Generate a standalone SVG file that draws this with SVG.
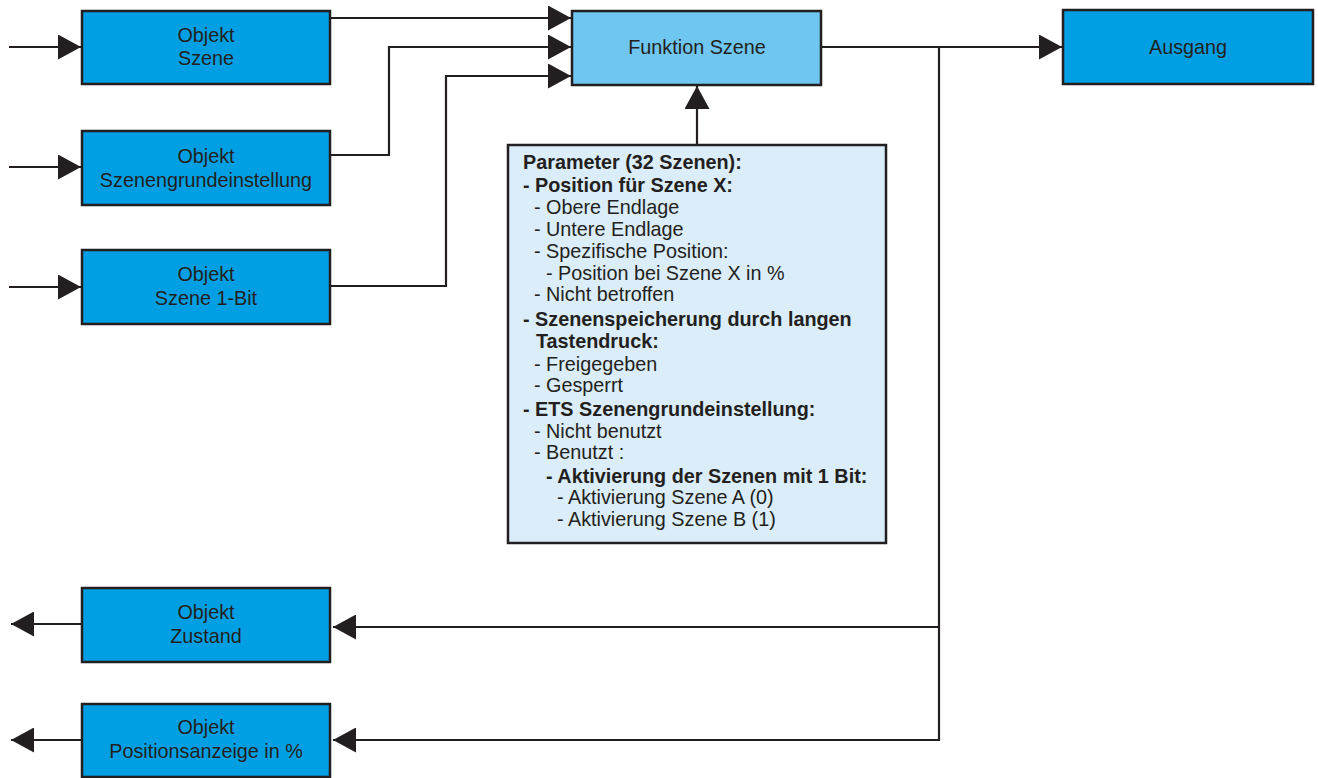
<svg xmlns="http://www.w3.org/2000/svg" width="1318" height="778" viewBox="0 0 1318 778">
  <style>
    .obj { fill: #009fe3; stroke: #231f20; stroke-width: 2.5; }
    .fn { fill: #6ec6f1; stroke: #231f20; stroke-width: 2.5; }
    .par { fill: #dbedf9; stroke: #231f20; stroke-width: 2.5; }
    .lbl { font-family: "Liberation Sans", Arial, sans-serif; font-size: 19.8px; fill: #231f20; text-anchor: middle; }
    .ptx { font-family: "Liberation Sans", Arial, sans-serif; font-size: 19.8px; fill: #231f20; }
    .b { font-weight: bold; }
    .wire { fill: none; stroke: #231f20; stroke-width: 2.2; stroke-linecap: butt; stroke-linejoin: miter; }
  </style>
  <defs>
    <marker id="arrow" viewBox="0 0 23 25" refX="23" refY="12.5" markerWidth="23" markerHeight="25" markerUnits="userSpaceOnUse" orient="auto">
      <polygon points="0,0 23,12.5 0,25" fill="#231f20"/>
    </marker>
  </defs>

  <rect width="1318" height="778" fill="#ffffff"/>

  <!-- connectors -->
  <g id="connectors" class="wire" marker-end="url(#arrow)">
    <!-- inputs into the object blocks -->
    <path d="M9,47 H81"/>
    <path d="M9,167 H81"/>
    <path d="M9,287 H81"/>
    <!-- objects into the scene function -->
    <path d="M331,18 H571"/>
    <path d="M331,155 H389 V47 H571"/>
    <path d="M331,286 H446 V76 H571"/>
    <!-- parameters into the scene function -->
    <path d="M697,144 V86"/>
    <!-- scene function to output -->
    <path d="M822,47 H1062"/>
    <!-- feedback branch -->
    <path d="M939,47 V740 H333"/>
    <path d="M939,627 H333"/>
    <!-- status objects out -->
    <path d="M81,624 H11"/>
    <path d="M81,740 H11"/>
  </g>

  <!-- nodes -->
  <g id="obj-szene">
    <rect class="obj" x="82" y="11" width="248" height="73"/>
    <text class="lbl" x="206" y="42">Objekt</text>
    <text class="lbl" x="206" y="65">Szene</text>
  </g>

  <g id="obj-grundeinstellung">
    <rect class="obj" x="82" y="131" width="248" height="74"/>
    <text class="lbl" x="206" y="163">Objekt</text>
    <text class="lbl" x="206" y="187">Szenengrundeinstellung</text>
  </g>

  <g id="obj-szene-1bit">
    <rect class="obj" x="82" y="250" width="248" height="74"/>
    <text class="lbl" x="206" y="281">Objekt</text>
    <text class="lbl" x="206" y="305">Szene 1-Bit</text>
  </g>

  <g id="funktion-szene">
    <rect class="fn" x="572" y="11" width="249" height="74"/>
    <text class="lbl" x="697" y="54">Funktion Szene</text>
  </g>

  <g id="ausgang">
    <rect class="obj" x="1063" y="10" width="250" height="74"/>
    <text class="lbl" x="1188" y="54">Ausgang</text>
  </g>

  <g id="parameter">
    <rect class="par" x="508" y="145" width="378" height="398"/>
    <text class="ptx b" x="523" y="169">Parameter (32 Szenen):</text>
    <text class="ptx b" x="523" y="192">- Position für Szene X:</text>
    <text class="ptx" x="534" y="214">- Obere Endlage</text>
    <text class="ptx" x="534" y="236">- Untere Endlage</text>
    <text class="ptx" x="534" y="258">- Spezifische Position:</text>
    <text class="ptx" x="546" y="280">- Position bei Szene X in %</text>
    <text class="ptx" x="534" y="301">- Nicht betroffen</text>
    <text class="ptx b" x="523" y="326">- Szenenspeicherung durch langen</text>
    <text class="ptx b" x="536" y="348">Tastendruck:</text>
    <text class="ptx" x="534" y="371">- Freigegeben</text>
    <text class="ptx" x="534" y="392">- Gesperrt</text>
    <text class="ptx b" x="523" y="416">- ETS Szenengrundeinstellung:</text>
    <text class="ptx" x="534" y="438">- Nicht benutzt</text>
    <text class="ptx" x="534" y="459">- Benutzt :</text>
    <text class="ptx b" x="546" y="483">- Aktivierung der Szenen mit 1 Bit:</text>
    <text class="ptx" x="557" y="504">- Aktivierung Szene A (0)</text>
    <text class="ptx" x="557" y="526">- Aktivierung Szene B (1)</text>
  </g>

  <g id="obj-zustand">
    <rect class="obj" x="82" y="588" width="248" height="74"/>
    <text class="lbl" x="206" y="619">Objekt</text>
    <text class="lbl" x="206" y="643">Zustand</text>
  </g>

  <g id="obj-positionsanzeige">
    <rect class="obj" x="82" y="704" width="248" height="73"/>
    <text class="lbl" x="206" y="734">Objekt</text>
    <text class="lbl" x="206" y="758">Positionsanzeige in %</text>
  </g>
</svg>
